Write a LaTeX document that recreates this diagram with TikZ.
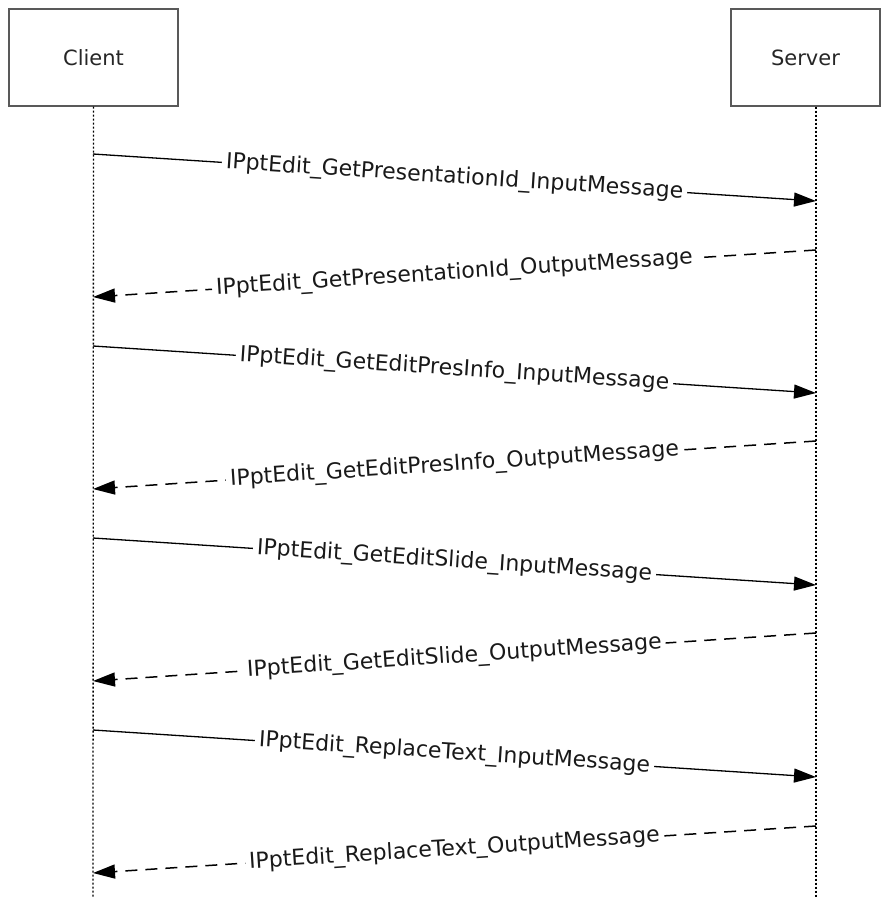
\documentclass[tikz,border=0pt]{standalone}
\usepackage{fontspec}
\setmainfont{DejaVu Sans}
\usetikzlibrary{arrows.meta}
\begin{document}
\begin{tikzpicture}[x=1pt,y=-1pt,
  actor/.style={draw=black!65,line width=1.3pt,minimum width=169pt,minimum height=97pt,inner sep=0pt,font=\fontsize{21}{24}\selectfont,text=black!85},
  life/.style={dash pattern=on 2pt off 2pt,line width=1.3pt},
  msg/.style={line width=1.3pt,-{Triangle[length=22pt,width=14pt]}},
  reply/.style={msg,line width=1.5pt,dash pattern=on 12pt off 8pt},
  lbl/.style={midway,sloped,fill=white,inner sep=4pt,font=\fontsize{22}{24}\selectfont,text=black!90}]
\useasboundingbox (0,0) rectangle (890,897);
\node[actor] (client) at (93.5,57.5) {Client};
\node[actor,minimum width=149pt] (server) at (805.5,57.5) {Server};
\coordinate (cend) at (93,897);
\coordinate (send) at (816,897);
\draw[life] (client.south) -- (cend);
\draw[life] (server.south -| send) -- (send);
\foreach \i/\ya/\yb in {1/154/201,2/250/297,3/346/393,4/441/489,5/538/585,6/633/681,7/730/777,8/826/873}{
  \coordinate (c\i) at (93,\ya);
  \coordinate (s\i) at (816,\yb);
  \coordinate (ca\i) at (93,\yb);
  \coordinate (sa\i) at (816,\ya);
}
\draw[msg] (c1) -- node[lbl]{IPptEdit\_GetPresentationId\_InputMessage} (s1);
\draw[reply] (sa2) -- node[lbl]{IPptEdit\_GetPresentationId\_OutputMessage} (ca2);
\draw[msg] (c3) -- node[lbl]{IPptEdit\_GetEditPresInfo\_InputMessage} (s3);
\draw[reply] (sa4) -- node[lbl]{IPptEdit\_GetEditPresInfo\_OutputMessage} (ca4);
\draw[msg] (c5) -- node[lbl]{IPptEdit\_GetEditSlide\_InputMessage} (s5);
\draw[reply] (sa6) -- node[lbl]{IPptEdit\_GetEditSlide\_OutputMessage} (ca6);
\draw[msg] (c7) -- node[lbl]{IPptEdit\_ReplaceText\_InputMessage} (s7);
\draw[reply] (sa8) -- node[lbl]{IPptEdit\_ReplaceText\_OutputMessage} (ca8);
\end{tikzpicture}
\end{document}
